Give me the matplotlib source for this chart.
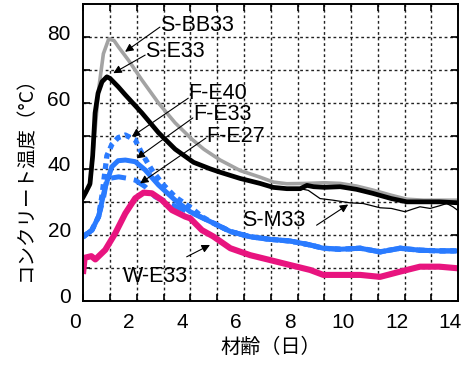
import matplotlib
matplotlib.use("Agg")
import matplotlib.pyplot as plt
from matplotlib.ticker import MultipleLocator
from matplotlib.transforms import ScaledTranslation

# S-BB33 (gray)
sbb_days = [0, 0.25, 0.4, 0.57, 0.75, 0.95, 1.15, 1.32, 1.69, 2.19, 2.81, 3.43, 4.06, 4.5,
            5.11, 5.86, 6.6, 7.1, 7.6, 8.35, 9.0, 9.59, 10.2, 10.8, 11.5, 12.08, 12.7, 13.3, 14]
sbb_temp = [31.5, 35, 48, 64, 75, 79.5, 79, 77, 73, 67, 60, 54, 49, 46,
            42.7, 39.5, 37.5, 36, 35.5, 35.6, 35.8, 35.6, 34.8, 33.6, 32, 30.8, 30.5, 30.5, 30.5]

# S-E33 (thick black)
se_days = [0, 0.1, 0.25, 0.35, 0.44, 0.55, 0.7, 0.88, 1.0, 1.3, 1.57, 2.19, 2.81, 3.43, 4.12,
           4.75, 5.11, 5.86, 6.6, 7.09, 7.6, 8.1, 8.35, 8.6, 9.0, 9.59, 10.2, 10.8, 11.5,
           12.08, 12.7, 13.3, 14]
se_temp = [31.5, 33, 35.5, 44, 57, 63, 66.5, 68, 67.5, 65, 62.5, 57, 51, 46, 42,
           40, 39, 37.1, 35.6, 34.4, 34, 34, 35, 34.6, 34.4, 34.6, 33.8, 32.6, 31,
           30, 30, 30, 29.7]

# S-M33 (thin black)
sm_days = [0, 0.1, 0.25, 0.35, 0.44, 0.55, 0.7, 0.88, 1.0, 1.3, 1.57, 2.19, 2.81, 3.43, 4.12,
           4.75, 5.11, 5.86, 6.6, 7.09, 7.6, 8.1, 8.4, 8.84, 9.33, 9.96, 10.45, 11.08, 11.5,
           12.01, 12.3, 12.57, 12.95, 13.3, 13.57, 13.8, 14]
sm_temp = [31.5, 33, 35.5, 44, 57, 63, 66.5, 68, 67.5, 65, 62.5, 57, 51, 46, 42,
           40, 39, 37.1, 35.6, 34.4, 34, 34, 33.5, 31, 30.5, 29.7, 29.5, 28.2, 28,
           27, 27.8, 28.5, 28, 28.8, 29.5, 28.5, 27.3]

# F-E33 (solid blue)
fe33_days = [0, 0.32, 0.57, 0.82, 1.07, 1.3, 1.57, 1.94, 2.31, 2.81, 3.43, 3.99, 4.74, 5.49,
             6.23, 6.98, 7.72, 8.47, 8.96, 9.59, 10.34, 11.08, 11.83, 12.57, 13.3, 14]
fe33_temp = [19.4, 21.4, 25.5, 34.6, 40.7, 42.5, 42.7, 42.2, 39.7, 35.1, 30.5, 27, 24, 21,
             19.4, 18.6, 18.1, 16.9, 15.9, 15.6, 15.9, 14.8, 15.9, 15.3, 15.1, 15.1]

# F-E40 (dotted blue)
fe40_days = [0, 0.32, 0.57, 0.7, 0.88, 1.07, 1.3, 1.57, 1.94, 2.19, 2.56, 2.94, 3.43, 4.06,
             4.43, 4.74, 5.49, 6.23, 6.98, 7.72, 8.47, 8.96, 9.59, 10.34, 11.08, 11.83,
             12.57, 13.3, 14]
fe40_temp = [19.4, 21.4, 25.5, 32, 44, 47.5, 49.5, 50.3, 48.8, 44.7, 39.7, 35.6, 31.5, 28,
             25.5, 24, 21, 19.4, 18.6, 18.1, 16.9, 15.9, 15.6, 15.9, 14.8, 15.9,
             15.3, 15.1, 15.1]

# F-E27 (dashed blue)
fe27_days = [0, 0.32, 0.57, 0.75, 0.88, 1.32, 1.69, 1.94, 2.31, 2.69, 3.1, 3.6, 4.1, 4.74,
             5.49, 6.23, 6.98, 7.72, 8.47, 8.96, 9.59, 10.34, 11.08, 11.83, 12.57, 13.3, 14]
fe27_temp = [19.4, 21.4, 25.5, 31, 37, 37.6, 37.1, 36.6, 34.6, 31.5, 30, 28, 26.5, 24,
             21, 19.4, 18.6, 18.1, 16.9, 15.9, 15.6, 15.9, 14.8, 15.9, 15.3, 15.1, 15.1]

# W-E33 (magenta)
we_days = [0, 0.05, 0.3, 0.45, 0.82, 1.19, 1.57, 1.94, 2.25, 2.56, 2.94, 3.31, 3.81, 3.99,
           4.43, 4.85, 5.49, 6.23, 6.98, 7.72, 8.47, 8.96, 9.59, 10.34, 11.08, 11.83,
           12.57, 13.3, 14]
we_temp = [9, 13, 13.5, 12.5, 15.4, 20.4, 26.5, 31.1, 32.8, 32.6, 30.5, 27.5, 25.5, 25,
           21.4, 19.5, 15.9, 13.8, 12.3, 10.8, 9.3, 7.8, 7.8, 7.8, 7.2, 8.8,
           10.3, 10.3, 9.8]

blue = '#2a7bff'
pink = '#e8147f'

fig = plt.figure(figsize=(4.69, 3.67), dpi=100)
ax = fig.add_axes([0.1776, 0.181, 0.7995, 0.807])

ax.plot(sbb_days, sbb_temp, color='#a3a3a3', lw=2.6, zorder=3)
ax.plot(se_days, se_temp, color='black', lw=3.4, zorder=4)
ax.plot(sm_days, sm_temp, color='black', lw=0.9, zorder=5)
ax.plot(fe33_days, fe33_temp, color=blue, lw=3.6, zorder=3)
ax.plot(fe40_days, fe40_temp, color=blue, lw=3.8, ls=(0, (1.1, 0.9)), zorder=3)
ax.plot(fe27_days, fe27_temp, color=blue, lw=3.6, ls=(0, (3, 1.6)), zorder=3)
ax.plot(we_days, we_temp, color=pink, lw=4.4, zorder=4)

ax.set_xlim(0, 14)
ax.set_ylim(0, 90)
ax.xaxis.set_major_locator(MultipleLocator(2))
ax.xaxis.set_minor_locator(MultipleLocator(1))
ax.yaxis.set_major_locator(MultipleLocator(20))
ax.yaxis.set_minor_locator(MultipleLocator(10))
ax.tick_params(which='both', direction='in', top=True, right=True, length=5, width=1.2)
ax.tick_params(labelsize=15, pad=9)
for sp in ax.spines.values():
    sp.set_linewidth(1.4)
    sp.set_zorder(6)

for lab in ax.get_xticklabels():
    lab.set_fontfamily('Liberation Sans')
    lab.set_transform(lab.get_transform() + ScaledTranslation(-0.08, 0, fig.dpi_scale_trans))
for lab in ax.get_yticklabels():
    lab.set_fontfamily('Liberation Sans')
    lab.set_transform(lab.get_transform() + ScaledTranslation(0, 0.05, fig.dpi_scale_trans))

# dashed grid at every day and every 10 degrees
grid_kw = dict(color='#222222', linewidth=1.0, linestyle=(0, (2, 2)), zorder=1)
for v in ax.xaxis.get_minorticklocs().tolist() + ax.xaxis.get_majorticklocs().tolist():
    if 0 < v < 14:
        ax.axvline(v, **grid_kw)
for v in ax.yaxis.get_minorticklocs().tolist() + ax.yaxis.get_majorticklocs().tolist():
    if 0 < v < 90:
        ax.axhline(v, **grid_kw)

cjk = ['Noto Sans CJK JP', 'DejaVu Sans']
ax.set_xlabel('材齢（日）', family=cjk, fontsize=14.5, va='center')
ax.xaxis.set_label_coords(0.5, -0.16)
ax.set_ylabel('コンクリート温度（°C）', family=cjk, fontsize=14, va='center')
ax.yaxis.set_label_coords(-0.155, 0.43)

# labels with arrows: (text, text pos, arrow tail, arrow head)
notes = [
    ('S-BB33', (2.86, 83.7), (2.86, 83.1), (1.56, 75.6)),
    ('S-E33', (2.31, 75.6), (2.31, 74.6), (1.12, 69.1)),
    ('F-E40', (3.91, 63.0), (3.92, 61.5), (1.81, 49.8)),
    ('F-E33', (4.09, 56.4), (4.09, 55.5), (1.99, 43.2)),
    ('F-E27', (4.6, 49.8), (4.58, 49.4), (2.12, 35.6)),
    ('S-M33', (5.91, 24.3), (8.71, 22.9), (9.89, 29.2)),
    ('W-E33', (1.48, 7.2), (3.86, 13.3), (4.73, 16.9)),
]
for txt, pos, tail, head in notes:
    ax.text(pos[0], pos[1], txt, fontsize=15.5, family='Liberation Sans',
            ha='left', va='center', zorder=6)
    ax.annotate('', xy=head, xytext=tail,
                arrowprops=dict(arrowstyle='-|>', color='black', lw=0.8,
                                mutation_scale=12, shrinkA=0, shrinkB=0), zorder=6)

fig.savefig('out.png', dpi=100)
